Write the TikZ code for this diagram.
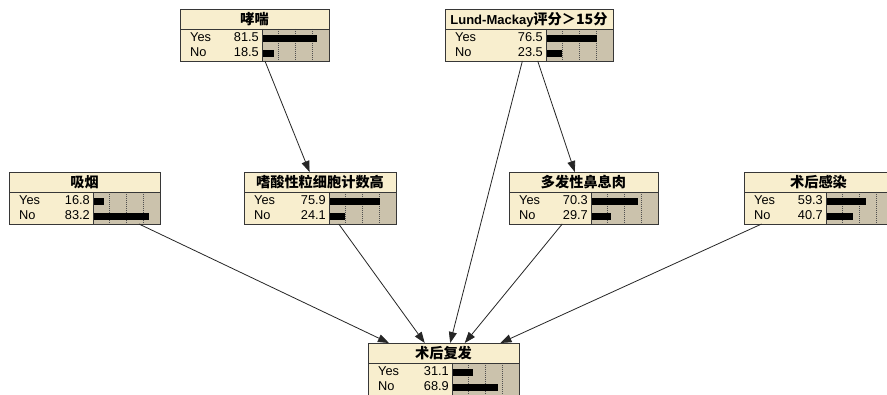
\documentclass[tikz,border=0pt]{standalone}
\usepackage{fontspec}
\setmainfont{Liberation Sans}
\newfontfamily\cjk{Noto Sans CJK SC}
\usetikzlibrary{arrows.meta,calc}
\definecolor{cream}{RGB}{248,238,206}
\definecolor{tanbg}{RGB}{203,194,172}
\definecolor{bord}{RGB}{55,55,55}
\definecolor{gridc}{RGB}{80,80,80}
\tikzset{
  bnanchor/.style={anchor=north west, inner sep=0pt, outer sep=0pt},
  rowtxt/.style={inner sep=0pt, font=\fontsize{12.8}{14}\selectfont},
  titletxt/.style={inner sep=0pt, font=\fontsize{13}{15}\selectfont\bfseries},
  gridline/.style={gridc, line width=0.8pt, dash pattern=on 1pt off 1pt},
  boxline/.style={bord, line width=0.9pt},
  arr/.style={line width=0.8pt, black!85, -{Triangle[length=11pt,width=8pt]}},
}
\newcommand\cjt{\cjk\bfseries\fontsize{14.2}{15}\selectfont}
% #1 name, #2 x, #3 y, #4 label width, #5 title, #6 yes, #7 no
\newcommand\bnbox[7]{%
  \pgfmathsetmacro\bnW{#4+67}%
  \node[bnanchor, minimum width=\bnW pt, minimum height=52pt] (#1) at (#2,#3) {};
  \begin{scope}[shift={(#2,#3)}]
    \fill[cream] (0,0) rectangle (\bnW,52);
    \fill[tanbg] (#4,20) rectangle (\bnW,52);
    \foreach \f in {0.25,0.5,0.75} \draw[gridline] ({#4+67*\f},20) -- ({#4+67*\f},52);
    \fill[black] (#4,26) rectangle ({#4+0.67*#6},33);
    \fill[black] (#4,41) rectangle ({#4+0.67*#7},48);
    \draw[boxline] (0,20) -- (\bnW,20) (#4,20) -- (#4,52);
    \draw[boxline] (0,0) rectangle (\bnW,52);
    \node[rowtxt, anchor=base west] at (10,33) {Yes};
    \node[rowtxt, anchor=base east] at ({#4-3},33) {#6};
    \node[rowtxt, anchor=base west] at (10,48) {No};
    \node[rowtxt, anchor=base east] at ({#4-3},48) {#7};
    \node[titletxt] at ({\bnW/2},10.5) {#5};
  \end{scope}
}
\begin{document}
\begin{tikzpicture}[x=1pt,y=-1pt]
\useasboundingbox (0,0) rectangle (887,395);
\clip (0,0) rectangle (887,395);
\fill[white] (0,0) rectangle (887,395);
\bnbox{xc}{180}{9}{82}{\cjt 哮喘}{81.5}{18.5}
\bnbox{lm}{445}{9}{101}{Lund-Mackay{\cjt 评分＞15分}}{76.5}{23.5}
\bnbox{xy}{9}{172}{84}{\cjt 吸烟}{16.8}{83.2}
\bnbox{sx}{244}{172}{85}{\cjt 嗜酸性粒细胞计数高}{75.9}{24.1}
\bnbox{dx}{509}{172}{82}{\cjt 多发性鼻息肉}{70.3}{29.7}
\bnbox{gr}{744}{172}{82}{\cjt 术后感染}{59.3}{40.7}
\bnbox{fy}{368}{343}{84}{\cjt 术后复发}{31.1}{68.9}
\draw[arr] (xc) -- (sx);
\draw[arr] (lm) -- (dx);
\draw[arr] (lm) -- (fy);
\draw[arr] (xy) -- (fy);
\draw[arr] (sx) -- (fy);
\draw[arr] (dx) -- (fy);
\draw[arr] (gr) -- (fy);
\end{tikzpicture}
\end{document}
